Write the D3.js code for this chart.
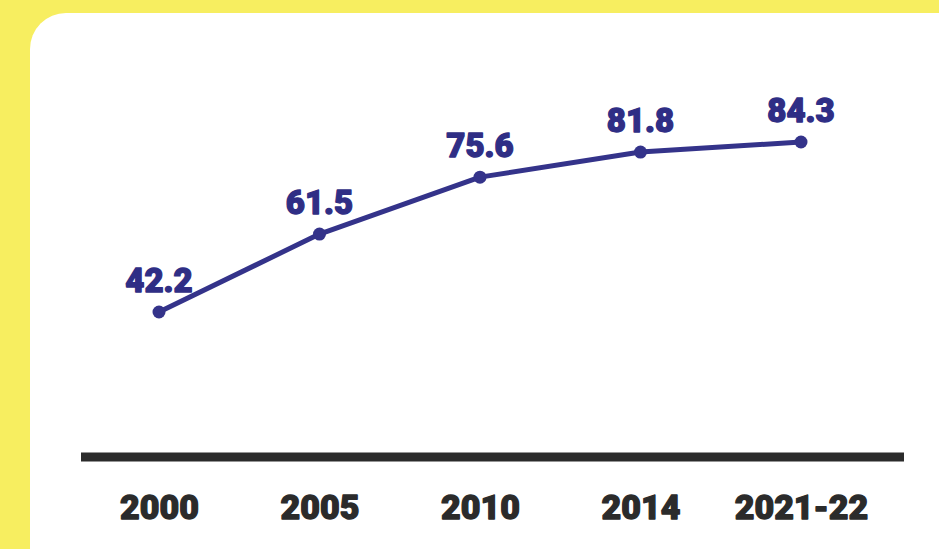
<!DOCTYPE html>
<html>
<head>
<meta charset="utf-8">
<script src="https://cdn.jsdelivr.net/npm/d3@7"></script>
<style>
  html, body { margin: 0; padding: 0; background: #f7ee60; }
  svg { display: block; }
</style>
</head>
<body>
<svg id="chart" width="939" height="549"></svg>
<script>
const categories = ["2000", "2005", "2010", "2014", "2021-22"];
const values = [42.2, 61.5, 75.6, 81.8, 84.3];
const valueLabels = ["42.2", "61.5", "75.6", "81.8", "84.3"];

const W = 939, H = 549;
const svg = d3.select("#chart");
const fontFam = "Roboto, Lato, 'Open Sans', sans-serif";

// background and card
svg.append("rect").attr("width", W).attr("height", H).attr("fill", "#f7ee60");
svg.append("rect")
  .attr("x", 30).attr("y", 13)
  .attr("width", 945).attr("height", 600)
  .attr("rx", 36).attr("ry", 36)
  .attr("fill", "#ffffff");

const x = d3.scalePoint().domain(categories).range([159, 801]);
const y = d3.scaleLinear().domain([0, 100]).range([482.4, 78.6]);

// baseline axis
const axisY = 457;
const axis = d3.axisBottom(x).tickSize(0).tickPadding(0);
const gAxis = svg.append("g").attr("transform", `translate(0,${axisY})`).call(axis);
gAxis.select(".domain").remove();
svg.insert("line", "g")
  .attr("x1", 81).attr("x2", 904)
  .attr("y1", axisY).attr("y2", axisY)
  .attr("stroke", "#2b2b2b").attr("stroke-width", 9);
gAxis.selectAll(".tick text")
  .attr("y", 62)
  .attr("dy", 0)
  .attr("fill", "#2b2b2b")
  .attr("stroke", "#2b2b2b")
  .attr("stroke-width", 1.3)
  .attr("stroke-linejoin", "round")
  .style("font-family", fontFam)
  .style("font-weight", 900)
  .style("font-size", "34px");

// line
const line = d3.line()
  .x((d, i) => x(categories[i]))
  .y(d => y(d));
svg.append("path")
  .datum(values)
  .attr("d", line)
  .attr("fill", "none")
  .attr("stroke", "#34338a")
  .attr("stroke-width", 5)
  .attr("stroke-linejoin", "round");

svg.selectAll("circle.pt")
  .data(values)
  .join("circle")
  .attr("class", "pt")
  .attr("cx", (d, i) => x(categories[i]))
  .attr("cy", d => y(d))
  .attr("r", 6.5)
  .attr("fill", "#34338a");

svg.selectAll("text.val")
  .data(values)
  .join("text")
  .attr("class", "val")
  .attr("x", (d, i) => x(categories[i]))
  .attr("y", d => y(d) - 20)
  .attr("text-anchor", "middle")
  .attr("fill", "#2f2e85")
  .attr("stroke", "#2f2e85")
  .attr("stroke-width", 1.3)
  .attr("stroke-linejoin", "round")
  .style("font-family", fontFam)
  .style("font-weight", 900)
  .style("font-size", "33px")
  .text((d, i) => valueLabels[i]);
</script>
</body>
</html>
